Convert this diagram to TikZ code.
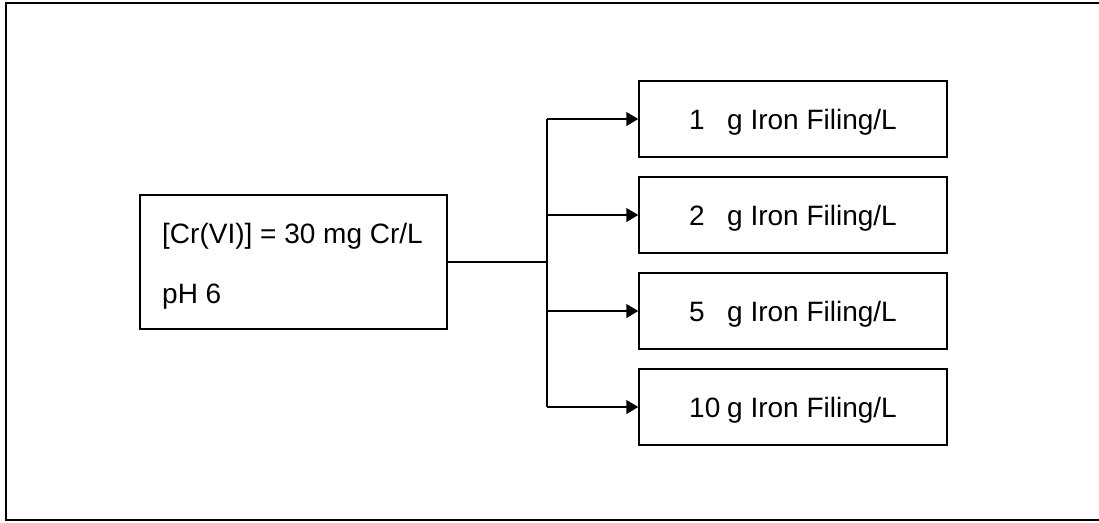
\documentclass[tikz,border=0pt]{standalone}
\usepackage{fontspec}
\setmainfont{Liberation Sans}
\usetikzlibrary{arrows.meta,calc}
\tikzset{
  frame/.style={draw, line width=2pt},
  box/.style={draw, line width=1.5pt, rectangle, inner sep=0pt},
  dosebox/.style={box, minimum width=308pt, minimum height=76pt,
    text height=20pt, text depth=0pt},
  label/.style={inner sep=0pt, anchor=base west},
  link/.style={line width=1.5pt},
  feed/.style={link, -{Triangle[length=12pt,width=14pt]}},
}
\newcommand{\dose}[1]{\makebox[38pt][l]{#1}g Iron Filing/L}
\begin{document}
\begin{tikzpicture}[x=1pt, y=-1pt, font=\fontsize{28}{34}\selectfont]
  \useasboundingbox (0,0) rectangle (1099,522);
  % outer frame
  \draw[frame] (1105,3) -- (6,3) -- (6,520) -- (1105,520);

  % starting solution
  \node[box, minimum width=307pt, minimum height=134pt] (main) at (293.5,262) {};
  \node[label] (conc) at (162,243) {[Cr(VI)] = 30 mg Cr/L};
  \node[label] (ph) at (162,303) {pH 6};

  % iron filing doses
  \node[dosebox] (d1) at (793,119) {\dose{1}};
  \node[dosebox] (d2) at (793,215) {\dose{2}};
  \node[dosebox] (d3) at (793,311) {\dose{5}};
  \node[dosebox] (d4) at (793,407) {\dose{10}};

  % branching connectors
  \coordinate (split) at (547,262);
  \draw[link] (main.east) -- (split);
  \draw[link] (split |- d1.west) -- (split |- d4.west);
  \foreach \d in {d1,d2,d3,d4}
    \draw[feed] (split |- \d.west) -- (\d.west);
\end{tikzpicture}
\end{document}
